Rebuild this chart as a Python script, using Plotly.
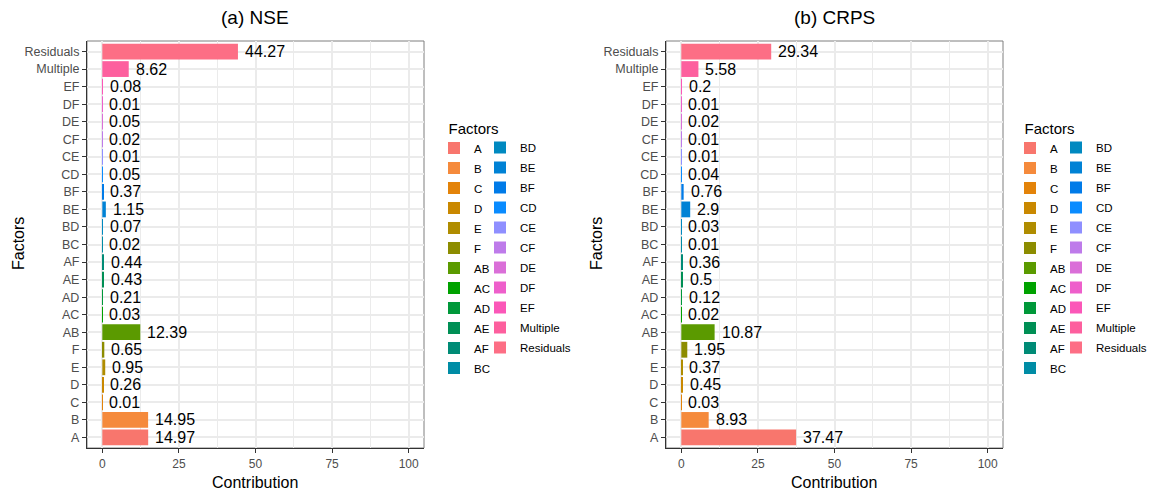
import plotly.graph_objects as go

factors = ["A", "B", "C", "D", "E", "F", "AB", "AC", "AD", "AE", "AF", "BC",
           "BD", "BE", "BF", "CD", "CE", "CF", "DE", "DF", "EF", "Multiple", "Residuals"]
nse = [14.97, 14.95, 0.01, 0.26, 0.95, 0.65, 12.39, 0.03, 0.21, 0.43, 0.44, 0.02,
       0.07, 1.15, 0.37, 0.05, 0.01, 0.02, 0.05, 0.01, 0.08, 8.62, 44.27]
crps = [37.47, 8.93, 0.03, 0.45, 0.37, 1.95, 10.87, 0.02, 0.12, 0.5, 0.36, 0.01,
        0.03, 2.9, 0.76, 0.04, 0.01, 0.01, 0.02, 0.01, 0.2, 5.58, 29.34]
x_ticks = [0, 25, 50, 75, 100]
titles = ["(a) NSE", "(b) CRPS"]
colors = ["#F8766D", "#F58A3C", "#E38309", "#C98800", "#AF8C00", "#8C8C00",
          "#5B9A00", "#00A200", "#00983A", "#008F55", "#008B76", "#008CA5",
          "#0089C0", "#0082D5", "#007BE8", "#0A8CFF", "#8F8FFF", "#BE7BEA",
          "#DA6FD8", "#EE5FCB", "#FB57B8", "#FD5F9E", "#FD6E85"]

W, H = 1149, 494
FONT = "Liberation Sans, Arial, sans-serif"
n = len(factors)

fig = go.Figure()
panels = [(nse, "x", "y", "legend", "legend2"), (crps, "x2", "y2", "legend3", "legend4")]
for p, (vals, xa, ya, lg1, lg2) in enumerate(panels):
    for i, (f, v) in enumerate(zip(factors, vals)):
        fig.add_trace(go.Bar(
            x=[v], y=[f], orientation="h", name=f, width=0.9,
            marker=dict(color=colors[i], line=dict(width=0)),
            xaxis=xa, yaxis=ya, legend=lg1 if i < 12 else lg2,
            legendgroup=f"{p}-{f}", showlegend=True, hoverinfo="x+y"))
        fig.add_annotation(x=v, y=f, xref=xa, yref=ya, text=f"{v:g}",
                           showarrow=False, xanchor="left", yanchor="middle",
                           xshift=5, font=dict(size=16, color="black", family=FONT))

px = lambda x: x / W
py = lambda y: 1 - y / H
doms = [(px(87), px(424)), (px(666), px(1003))]
ydom = [py(448), py(41)]

axis_common = dict(
    showline=True, linecolor="#333333", linewidth=1.2, mirror=False,
    ticks="outside", ticklen=4, tickcolor="#333333", tickwidth=1,
    tickfont=dict(size=12, color="#4D4D4D", family=FONT),
    gridcolor="#EBEBEB", zeroline=False, fixedrange=True, automargin=False)

for k, suffix in enumerate(["", "2"]):
    fig.layout["xaxis" + suffix] = dict(
        axis_common, domain=doms[k], range=[-5, 105], tickvals=x_ticks,
        gridwidth=1.8, anchor="y" + suffix,
        minor=dict(dtick=12.5, tick0=0, showgrid=True, gridcolor="#EBEBEB", gridwidth=1, ticks=""))
    fig.layout["yaxis" + suffix] = dict(
        axis_common, domain=ydom, type="category", categoryorder="array",
        categoryarray=factors, range=[-0.6, n - 0.4], gridwidth=1.8,
        anchor="x" + suffix, tickfont=dict(size=12.5, color="#4D4D4D", family=FONT))
    x0, x1 = doms[k]
    fig.add_shape(type="rect", xref="paper", yref="paper", x0=x0, x1=x1, y0=ydom[0], y1=ydom[1],
                  line=dict(color="#7F7F7F", width=1), layer="below")
    cx = (x0 + x1) / 2
    fig.add_annotation(text=titles[k], x=cx, y=py(17), xref="paper", yref="paper",
                       xanchor="center", yanchor="middle", showarrow=False,
                       font=dict(size=19, color="black", family=FONT))
    fig.add_annotation(text="Contribution", x=cx, y=py(482), xref="paper", yref="paper",
                       xanchor="center", yanchor="middle", showarrow=False,
                       font=dict(size=16, color="black", family=FONT))
    fig.add_annotation(text="Factors", x=px(18 + 578 * k), y=py(244), xref="paper", yref="paper",
                       xanchor="center", yanchor="middle", showarrow=False, textangle=-90,
                       font=dict(size=16, color="black", family=FONT))

leg_common = dict(xanchor="left", yanchor="top", bgcolor="rgba(0,0,0,0)", borderwidth=0,
                  font=dict(size=11.5, color="black", family=FONT), traceorder="grouped",
                  itemclick=False, itemdoubleclick=False, tracegroupgap=1)
leg_title = dict(text="&nbsp;&nbsp;&nbsp;Factors", font=dict(size=15, color="black", family=FONT))
fig.update_layout(
    width=W, height=H, margin=dict(l=0, r=0, t=0, b=0, autoexpand=False),
    paper_bgcolor="white", plot_bgcolor="white", barmode="overlay",
    font=dict(family=FONT),
    legend=dict(leg_common, x=px(434), y=py(114), title=leg_title),
    legend2=dict(leg_common, x=px(480), y=py(133)),
    legend3=dict(leg_common, x=px(1010), y=py(114), title=leg_title),
    legend4=dict(leg_common, x=px(1056), y=py(133)),
)

fig.write_html("out.html", post_script="document.body.style.margin='0';",
               config={"displayModeBar": False})
